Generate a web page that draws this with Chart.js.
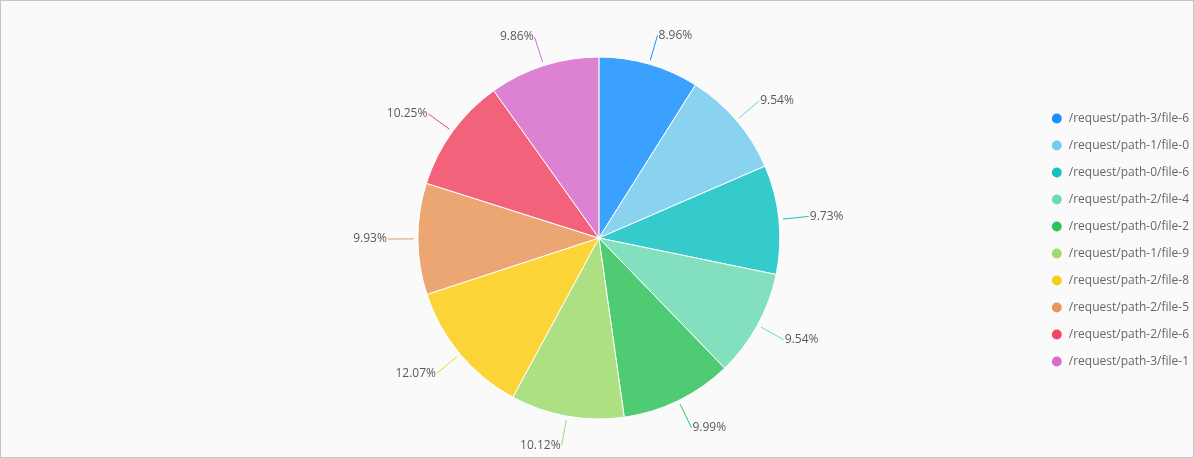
<!DOCTYPE html>
<html>
<head>
<meta charset="utf-8">
<script src="https://cdn.jsdelivr.net/npm/chart.js@4/dist/chart.umd.min.js"></script>
<style>
  html, body { margin: 0; padding: 0; background: #fafafa; }
  #wrap { position: relative; width: 1194px; height: 458px; background: #fafafa; }
  #frame { position: absolute; left: 0; top: 0; width: 1194px; height: 458px; box-sizing: border-box; border: 1px solid #c6c6c6; pointer-events: none; }
</style>
</head>
<body>
<div id="wrap">
  <canvas id="myChart" width="1194" height="458"></canvas>
  <div id="frame"></div>
</div>
<script>
// dados
const labels = [
  '/request/path-3/file-6',
  '/request/path-1/file-0',
  '/request/path-0/file-6',
  '/request/path-2/file-4',
  '/request/path-0/file-2',
  '/request/path-1/file-9',
  '/request/path-2/file-8',
  '/request/path-2/file-5',
  '/request/path-2/file-6',
  '/request/path-3/file-1'
];
const percentages = [8.96, 9.54, 9.73, 9.54, 9.99, 10.12, 12.07, 9.93, 10.25, 9.86];
const colors = [
  '#1890FF', '#74CBED', '#13C2C2', '#6DDAB3', '#2FC25B',
  '#9EDA6D', '#FACC14', '#E7975C', '#F04864', '#D76CCB'
];

function withAlpha(hex, a) {
  var r = parseInt(hex.slice(1, 3), 16);
  var g = parseInt(hex.slice(3, 5), 16);
  var b = parseInt(hex.slice(5, 7), 16);
  return 'rgba(' + r + ',' + g + ',' + b + ',' + a + ')';
}

const FONT = '"Open Sans", "Noto Sans", sans-serif';

// rótulos de porcentagem com linha guia
const outsideLabels = {
  id: 'outsideLabels',
  afterDatasetsDraw(chart) {
    const ctx = chart.ctx;
    const meta = chart.getDatasetMeta(0);
    ctx.save();
    ctx.font = '12px ' + FONT;
    ctx.textBaseline = 'middle';
    meta.data.forEach(function (arc, i) {
      const p = arc.getProps(['x', 'y', 'startAngle', 'endAngle', 'outerRadius'], true);
      const mid = (p.startAngle + p.endAngle) / 2;
      const cos = Math.cos(mid), sin = Math.sin(mid);
      const x1 = p.x + cos * (p.outerRadius + 4);
      const y1 = p.y + sin * (p.outerRadius + 4);
      const x2 = p.x + cos * (p.outerRadius + 30);
      const y2 = p.y + sin * (p.outerRadius + 30);
      ctx.strokeStyle = colors[i];
      ctx.lineWidth = 1;
      ctx.beginPath();
      ctx.moveTo(x1, y1);
      ctx.lineTo(x2, y2);
      ctx.stroke();
      ctx.fillStyle = '#595959';
      const txt = percentages[i].toFixed(2) + '%';
      if (cos >= 0) {
        ctx.textAlign = 'left';
        ctx.fillText(txt, x2 + 1, y2);
      } else {
        ctx.textAlign = 'right';
        ctx.fillText(txt, x2 - 1, y2);
      }
    });
    ctx.restore();
  }
};

const data1 = {
  labels: labels,
  datasets: [{
    data: percentages,
    backgroundColor: colors.map(function (c) { return withAlpha(c, 0.85); }),
    borderColor: '#ffffff',
    borderWidth: 1,
    radius: 181
  }]
};

const config = {
  type: 'pie',
  data: data1,
  options: {
    responsive: false,
    animation: false,
    devicePixelRatio: 1,
    layout: {
      padding: { left: 162, right: -5, top: 28, bottom: 10 }
    },
    plugins: {
      tooltip: { enabled: false },
      legend: {
        position: 'right',
        align: 'center',
        title: {
          display: true,
          text: '',
          font: { size: 0 },
          padding: { top: 2, bottom: 2 }
        },
        labels: {
          usePointStyle: true,
          pointStyle: 'circle',
          boxWidth: 12,
          boxHeight: 7,
          padding: 15,
          color: '#595959',
          font: { size: 12, family: FONT },
          generateLabels: function (chart) {
            return labels.map(function (l, i) {
              return {
                text: l,
                fillStyle: colors[i],
                strokeStyle: colors[i],
                lineWidth: 0,
                pointStyle: 'circle',
                hidden: false,
                index: i
              };
            });
          }
        }
      }
    }
  },
  plugins: [outsideLabels]
};

const myChart = new Chart(document.getElementById('myChart'), config);
</script>
</body>
</html>
